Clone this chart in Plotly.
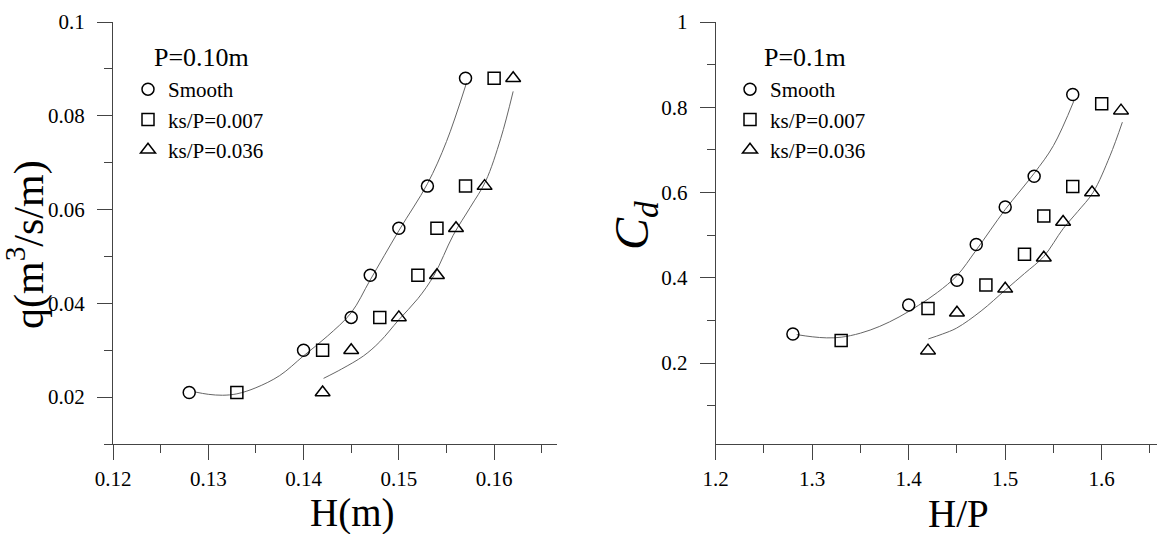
import plotly.graph_objects as go

# ---------------- data ----------------
H_smooth = [0.128, 0.140, 0.145, 0.147, 0.150, 0.153, 0.157]
H_ks007 = [0.133, 0.142, 0.148, 0.152, 0.154, 0.157, 0.160]
H_ks036 = [0.142, 0.145, 0.150, 0.154, 0.156, 0.159, 0.162]
q_vals = [0.021, 0.030, 0.037, 0.046, 0.056, 0.065, 0.088]

HP_smooth = [1.28, 1.40, 1.45, 1.47, 1.50, 1.53, 1.57]
HP_ks007 = [1.33, 1.42, 1.48, 1.52, 1.54, 1.57, 1.60]
HP_ks036 = [1.42, 1.45, 1.50, 1.54, 1.56, 1.59, 1.62]
Cd_smooth = [0.268, 0.336, 0.394, 0.478, 0.566, 0.638, 0.830]
Cd_ks007 = [0.253, 0.328, 0.383, 0.455, 0.545, 0.614, 0.808]
Cd_ks036 = [0.229, 0.318, 0.374, 0.447, 0.531, 0.600, 0.792]

# fitted curves, points
fitL1_x = [0.1286, 0.1300, 0.1315, 0.1330, 0.1350, 0.1375, 0.1400, 0.1425, 0.1450, 0.1470, 0.1500, 0.1530, 0.1550, 0.1571]
fitL1_y = [0.0211, 0.0206, 0.0204, 0.0207, 0.0220, 0.0246, 0.0288, 0.0330, 0.0380, 0.0450, 0.0555, 0.0655, 0.0745, 0.0870]
fitL2_x = [0.1421, 0.1440, 0.1463, 0.1480, 0.1500, 0.1520, 0.1537, 0.1557, 0.1575, 0.1591, 0.1607, 0.1620]
fitL2_y = [0.0240, 0.0260, 0.0288, 0.0318, 0.0365, 0.0410, 0.0460, 0.0545, 0.0605, 0.0660, 0.0752, 0.0852]
fitR1_x = [1.284, 1.300, 1.315, 1.330, 1.350, 1.370, 1.390, 1.410, 1.430, 1.450, 1.470, 1.500, 1.530, 1.550, 1.5713]
fitR1_y = [0.2666, 0.2615, 0.2590, 0.2605, 0.2700, 0.2860, 0.3080, 0.3350, 0.3660, 0.4050, 0.4650, 0.5600, 0.6450, 0.7100, 0.8155]
fitR2_x = [1.4203, 1.435, 1.4497, 1.475, 1.5005, 1.520, 1.540, 1.560, 1.575, 1.591, 1.6086, 1.6214]
fitR2_y = [0.2565, 0.268, 0.282, 0.322, 0.372, 0.410, 0.450, 0.515, 0.555, 0.600, 0.686, 0.765]

series_names = ["Smooth", "ks/P=0.007", "ks/P=0.036"]
legend_titles = ["P=0.10m", "P=0.1m"]

# ---------------- styling ----------------
FONT = "Liberation Serif"
W, Hh = 1157, 534
symbols = ["circle-open", "square-open", "triangle-up-open"]
sizes = [12, 12, 13]
AX = "#444444"
FIT = "#666666"

fig = go.Figure()

def add_points(x, y, i, xa, ya, leg):
    fig.add_trace(go.Scatter(
        x=x, y=y, mode="markers", name=series_names[i],
        marker=dict(symbol=symbols[i], size=sizes[i], color="black",
                    line=dict(color="black", width=1.5)),
        xaxis=xa, yaxis=ya, legend=leg, showlegend=True))

def add_fit(x, y, xa, ya):
    fig.add_trace(go.Scatter(
        x=x, y=y, mode="lines", line=dict(color=FIT, width=1, shape="spline", smoothing=1.0),
        xaxis=xa, yaxis=ya, showlegend=False, hoverinfo="skip"))

add_fit(fitL1_x, fitL1_y, "x", "y")
add_fit(fitL2_x, fitL2_y, "x", "y")
add_points(H_smooth, q_vals, 0, "x", "y", "legend")
add_points(H_ks007, q_vals, 1, "x", "y", "legend")
add_points(H_ks036, q_vals, 2, "x", "y", "legend")

add_fit(fitR1_x, fitR1_y, "x2", "y2")
add_fit(fitR2_x, fitR2_y, "x2", "y2")
add_points(HP_smooth, Cd_smooth, 0, "x2", "y2", "legend2")
add_points(HP_ks007, Cd_ks007, 1, "x2", "y2", "legend2")
add_points(HP_ks036, Cd_ks036, 2, "x2", "y2", "legend2")

def px_x(p):
    return p / W

def px_y(p):
    return 1 - p / Hh

tickfont = dict(family=FONT, size=21, color="black")
common = dict(showline=True, linecolor=AX, linewidth=1, ticks="outside", ticklen=15,
              tickcolor=AX, tickwidth=1, showgrid=False, zeroline=False,
              tickfont=tickfont, automargin=False)

fig.update_layout(
    width=W, height=Hh, margin=dict(l=0, r=0, t=0, b=0, autoexpand=False),
    paper_bgcolor="white", plot_bgcolor="white",
    xaxis=dict(domain=[px_x(113), px_x(557)], range=[0.12, 0.1666], anchor="y",
               tick0=0.12, dtick=0.01, ticklabelstandoff=1,
               minor=dict(dtick=0.005, tick0=0.12, ticklen=8, tickcolor=AX, ticks="outside"),
               **common),
    yaxis=dict(domain=[px_y(444), px_y(22)], range=[0.01, 0.1], anchor="x",
               tick0=0.02, dtick=0.02, ticklabelstandoff=8,
               minor=dict(dtick=0.01, tick0=0.01, ticklen=8, tickcolor=AX, ticks="outside"),
               **common),
    xaxis2=dict(domain=[px_x(715.7), 1.0], range=[1.2, 1.6573], anchor="y2",
                tick0=1.2, dtick=0.1, ticklabelstandoff=1,
                minor=dict(dtick=0.05, tick0=1.2, ticklen=8, tickcolor=AX, ticks="outside"),
                **common),
    yaxis2=dict(domain=[px_y(444), px_y(22)], range=[0.01, 1.0], anchor="x2",
                tick0=0.2, dtick=0.2, ticklabelstandoff=8,
                minor=dict(dtick=0.1, tick0=0.1, ticklen=8, tickcolor=AX, ticks="outside"),
                **common),
    legend=dict(x=px_x(128), y=px_y(69), xanchor="left", yanchor="top",
                bgcolor="rgba(0,0,0,0)", borderwidth=0,
                font=dict(family=FONT, size=21, color="black"), tracegroupgap=0),
    legend2=dict(x=px_x(730), y=px_y(69), xanchor="left", yanchor="top",
                 bgcolor="rgba(0,0,0,0)", borderwidth=0,
                 font=dict(family=FONT, size=21, color="black"), tracegroupgap=0),
    showlegend=True,
)

ann_font = dict(family=FONT, size=39, color="black")
fig.add_annotation(text=legend_titles[0], xref="paper", yref="paper",
                   x=px_x(152), y=px_y(57), xanchor="left", yanchor="middle",
                   showarrow=False, font=dict(family=FONT, size=26, color="black"))
fig.add_annotation(text=legend_titles[1], xref="paper", yref="paper",
                   x=px_x(762), y=px_y(57), xanchor="left", yanchor="middle",
                   showarrow=False, font=dict(family=FONT, size=26, color="black"))
fig.add_annotation(text="H(m)", xref="paper", yref="paper",
                   x=px_x(352), y=px_y(513), xanchor="center", yanchor="middle",
                   showarrow=False, font=ann_font)
fig.add_annotation(text="H/P", xref="paper", yref="paper",
                   x=px_x(958), y=px_y(513), xanchor="center", yanchor="middle",
                   showarrow=False, font=ann_font)
fig.add_annotation(text="q(m<sup>3</sup>/s/m)", xref="paper", yref="paper",
                   x=px_x(26), y=px_y(245), xanchor="center", yanchor="middle",
                   textangle=-90, showarrow=False, font=dict(family=FONT, size=42, color="black"))
fig.add_annotation(text="<i>C<sub>d</sub></i>", xref="paper", yref="paper",
                   x=px_x(635), y=px_y(226), xanchor="center", yanchor="middle",
                   textangle=-90, showarrow=False, font=dict(family=FONT, size=48, color="black"))

fig.write_html("out.html")
